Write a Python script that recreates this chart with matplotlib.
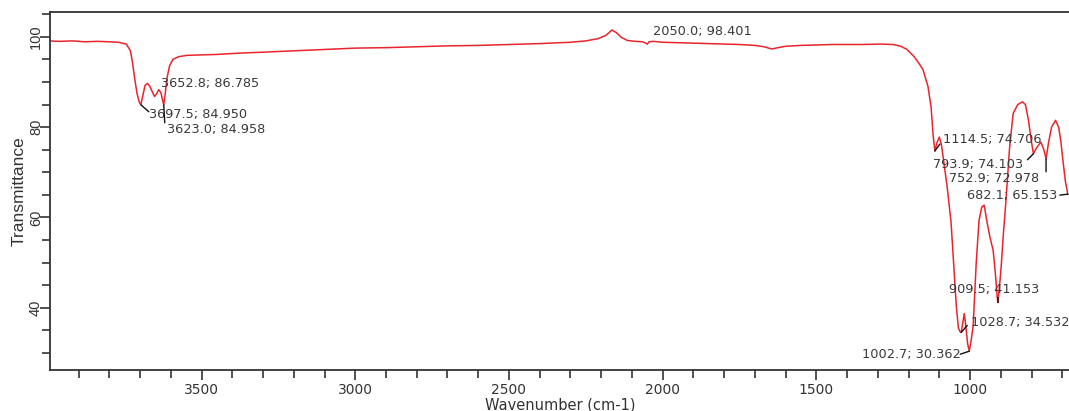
import matplotlib
matplotlib.use("Agg")
import matplotlib.pyplot as plt
from matplotlib.ticker import MultipleLocator

plt.rcParams['font.family'] = ['DejaVu Sans']

# FTIR spectrum: wavenumber (cm-1) and transmittance (%)
wavenumber = [
    4000, 3960, 3920, 3880, 3840, 3800, 3770, 3745, 3732, 3725, 3718, 3710,
    3703, 3697.5, 3691, 3684, 3676, 3668, 3660, 3652.8, 3646, 3639, 3632,
    3627, 3623.0, 3618, 3612, 3604, 3593, 3575, 3547, 3500, 3450, 3375,
    3300, 3200, 3100, 3000, 2900, 2800, 2700, 2600, 2500, 2400, 2300, 2250,
    2210, 2185, 2165, 2150, 2135, 2115, 2090, 2065, 2055, 2050.0, 2044, 2030,
    2000, 1950, 1900, 1850, 1800, 1750, 1700, 1670, 1645, 1625, 1600, 1550,
    1500, 1450, 1400, 1350, 1290, 1250, 1225, 1205, 1182, 1165, 1153, 1137,
    1127, 1120, 1114.5, 1108, 1100, 1093, 1085, 1075, 1062, 1052, 1045,
    1038, 1032, 1028.7, 1024, 1019, 1014, 1008, 1002.7, 996, 990, 980, 971,
    962, 954, 945, 935, 925, 917, 912, 909.5, 904, 899, 891, 883, 872, 860,
    845, 830, 820, 810, 801, 793.9, 785, 770, 760, 752.9, 745, 735, 722,
    712, 705, 697, 690, 682.1,
]
transmittance = [
    99.1, 99.0, 99.1, 98.9, 99.0, 98.9, 98.8, 98.4, 97.0, 94.5, 91.0, 87.5,
    85.6, 84.95, 87.0, 89.2, 89.7, 89.0, 87.8, 86.785, 87.4, 88.3, 87.6,
    86.0, 84.958, 87.5, 91.0, 93.6, 95.0, 95.6, 95.9, 96.0, 96.1, 96.4,
    96.6, 96.9, 97.2, 97.5, 97.6, 97.8, 98.0, 98.1, 98.3, 98.5, 98.8, 99.1,
    99.6, 100.3, 101.5, 100.9, 99.9, 99.2, 99.0, 98.9, 98.6, 98.401, 98.9,
    99.0, 98.8, 98.7, 98.6, 98.5, 98.4, 98.3, 98.1, 97.8, 97.3, 97.6, 97.9,
    98.1, 98.2, 98.3, 98.3, 98.3, 98.4, 98.3, 97.9, 97.2, 95.6, 94.0, 92.7,
    89.0, 84.5, 78.0, 74.706, 76.5, 77.8, 76.0, 72.0, 67.0, 59.0, 48.0,
    40.5, 35.5, 34.6, 34.532, 36.5, 38.7, 36.0, 32.0, 30.362, 33.0, 36.0,
    50.0, 59.3, 62.3, 62.7, 59.0, 55.5, 52.7, 47.0, 42.5, 41.153, 45.0,
    49.0, 57.0, 64.0, 75.0, 83.0, 85.0, 85.6, 85.0, 81.5, 77.0, 74.103,
    75.3, 76.7, 75.0, 72.978, 76.5, 80.0, 81.5, 80.0, 77.0, 72.0, 68.0,
    65.153,
]

# Picked peaks with label placement (text offset and leader end, in pixels)
peak_wn = [3652.8, 3697.5, 3623.0, 2050.0, 1114.5, 793.9, 752.9, 682.1,
           909.5, 1028.7, 1002.7]
peak_t = [86.785, 84.950, 84.958, 98.401, 74.706, 74.103, 72.978, 65.153,
          41.153, 34.532, 30.362]
label_offset = [(6, 13), (8, -10), (3, -25), (6, 13), (8, 12), (-100, -11),
                (-97, -20), (-101, -1), (-49, 13), (10, 10), (-9, -3)]
label_ha = ['left', 'left', 'left', 'left', 'left', 'left', 'left', 'left',
            'left', 'left', 'right']
leader_end = [(0, 0), (8, -7), (1, -18), (0, 0), (5, 7), (-6, -6),
              (0, -13), (-8, -1), (0, 5), (6, 7), (-9, -3)]

fig = plt.figure(figsize=(10.69, 4.11), dpi=100)
ax = fig.add_axes([50 / 1069, 1 - 370 / 411, 1020 / 1069, 358 / 411])

ax.plot(wavenumber, transmittance, color='#e8252d', linewidth=1.1)

ax.set_xlim(3993, 675)
ax.set_ylim(26.2, 105.5)

ax.xaxis.set_major_locator(MultipleLocator(500))
ax.xaxis.set_minor_locator(MultipleLocator(100))
ax.yaxis.set_major_locator(MultipleLocator(20))
ax.yaxis.set_minor_locator(MultipleLocator(5))

ax.tick_params(axis='both', which='major', direction='out', length=7,
               width=1.2, color='#333333', labelcolor='#333333')
ax.tick_params(axis='both', which='minor', direction='out', length=6,
               width=1.2, color='#333333')
ax.tick_params(axis='x', which='major', pad=2, labelsize=10)
ax.tick_params(axis='y', which='major', pad=-2)
for lab in ax.get_yticklabels():
    lab.set_rotation(90)
    lab.set_va('center')
    lab.set_family(['Liberation Sans', 'DejaVu Sans'])
    lab.set_fontsize(10.5)

for side in ['left', 'bottom', 'top', 'right']:
    ax.spines[side].set_linewidth(1.3)
    ax.spines[side].set_color('#333333')

ax.set_xlabel('Wavenumber (cm-1)', fontsize=10.5, color='#333333', labelpad=1)
ax.set_ylabel('Transmittance', fontsize=12.5, color='#333333', labelpad=2,
              family=['Liberation Sans', 'DejaVu Sans'])

for wn, t, off, ha, lead in zip(peak_wn, peak_t, label_offset, label_ha,
                                leader_end):
    ax.annotate(f'{wn:.1f}; {t:.3f}', xy=(wn, t), xytext=off,
                textcoords='offset pixels', ha=ha, va='center',
                fontsize=9.3, color='#3a3a3a')
    if lead != (0, 0):
        ax.annotate('', xy=(wn, t), xytext=lead, textcoords='offset pixels',
                    arrowprops=dict(arrowstyle='-', color='#111111', lw=1.0,
                                    shrinkA=0, shrinkB=0))

fig.savefig('out.png', dpi=100)
